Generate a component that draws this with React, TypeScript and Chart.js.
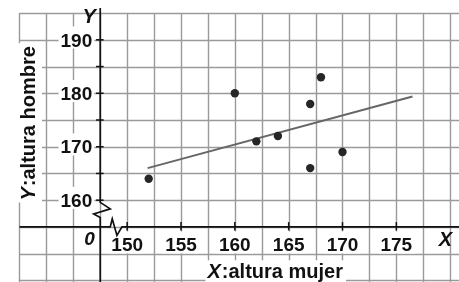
import React, { useEffect, useRef } from 'react';
import { Chart, registerables } from 'chart.js';

Chart.register(...registerables);

// ---- data ----
const alturaMujer = [152, 160, 162, 164, 167, 167, 168, 170];
const alturaHombre = [164, 180, 171, 172, 178, 166, 183, 169];

const rectaX = [151.9, 176.5];
const rectaY = [166, 179.4];

const xTickValues = [150, 155, 160, 165, 170, 175];
const xTickLabels = ['150', '155', '160', '165', '170', '175'];
const yTickValues = [160, 165, 170, 175, 180, 185, 190];
const yTickLabels = ['160', '', '170', '', '180', '', '190'];

const xTitleVar = 'X';
const xTitleText = ':altura mujer';
const yTitleVar = 'Y';
const yTitleText = ':altura hombre';
const originLabel = '0';
const xAxisName = 'X';
const yAxisName = 'Y';

// axis/break geometry in data units
const xMin = 138.58;
const xMax = 180.43;
const yMin = 145.48;
const yMax = 196.66;
const originX = 147.5;
const originY = 155;
const gridX0 = 140;
const gridY1 = 195;
const gridStepX = 2.5;
const gridStepY = 5;

const FONT = '"Liberation Sans", Arial, sans-serif';

export default function App() {
  const ref = useRef<HTMLCanvasElement>(null);

  useEffect(() => {
    document.body.style.margin = '0';
    const canvas = ref.current!;

    const paper = {
      id: 'paper',
      beforeDatasetsDraw(chart: any) {
        const ctx: CanvasRenderingContext2D = chart.ctx;
        const xs = chart.scales.x;
        const ys = chart.scales.y;
        const px = (v: number) => xs.getPixelForValue(v);
        const py = (v: number) => ys.getPixelForValue(v);
        const W = chart.width;
        const H = chart.height;
        const seg = (x1: number, y1: number, x2: number, y2: number) => {
          ctx.beginPath();
          ctx.moveTo(x1, y1);
          ctx.lineTo(x2, y2);
          ctx.stroke();
        };

        ctx.save();
        ctx.fillStyle = '#ffffff';
        ctx.fillRect(0, 0, W, H);

        // grid paper
        ctx.strokeStyle = '#9a9a9a';
        ctx.lineWidth = 1.4;
        const gl = px(gridX0);
        const gt = py(gridY1);
        for (let v = gridX0; px(v) <= W + 1; v += gridStepX) {
          const x = Math.round(px(v)) + 0.5;
          seg(x, gt, x, H);
        }
        for (let v = gridY1; py(v) <= H + 1; v -= gridStepY) {
          const y = Math.round(py(v)) + 0.5;
          seg(gl, y, W, y);
        }

        const ax = px(originX);
        const ay = py(originY);

        // white boxes + labels
        const boxText = (t: string, x: number, base: number, align: CanvasTextAlign, font: string) => {
          if (!t) return;
          ctx.font = font;
          const w = ctx.measureText(t).width;
          let l = x;
          if (align === 'center') l = x - w / 2;
          if (align === 'right') l = x - w;
          ctx.fillStyle = '#ffffff';
          ctx.fillRect(l - 2, base - 20, w + 4, 22);
          ctx.fillStyle = '#111111';
          ctx.textAlign = align;
          ctx.textBaseline = 'alphabetic';
          ctx.fillText(t, x, base);
        };

        const tickFont = `bold 19px ${FONT}`;
        xTickValues.forEach((v, i) => boxText(xTickLabels[i], px(v), ay + 24.5, 'center', tickFont));
        yTickValues.forEach((v, i) => boxText(yTickLabels[i], ax - 8, py(v) + 6.7, 'right', tickFont));

        // axes
        ctx.strokeStyle = '#111111';
        ctx.lineWidth = 1.7;
        ctx.lineJoin = 'miter';
        // y axis with break
        ctx.beginPath();
        ctx.moveTo(ax, 8);
        ctx.lineTo(ax, ay - 24.5);
        ctx.lineTo(ax + 10, ay - 18);
        ctx.lineTo(ax - 6.5, ay - 13);
        ctx.lineTo(ax, ay - 9.5);
        ctx.lineTo(ax, H);
        ctx.stroke();
        // x axis with break
        ctx.beginPath();
        ctx.moveTo(gl, ay);
        ctx.lineTo(ax + 10, ay);
        ctx.lineTo(ax + 12, ay - 8);
        ctx.lineTo(ax + 16.7, ay + 8.5);
        ctx.lineTo(ax + 21.7, ay);
        ctx.lineTo(W, ay);
        ctx.stroke();

        // tick marks
        ctx.lineWidth = 1.5;
        xTickValues.forEach((v) => {
          const x = px(v);
          seg(x, ay - 4.8, x, ay + 3.5);
        });
        yTickValues.forEach((v) => {
          const y = py(v);
          seg(ax - 4.2, y, ax + 3.4, y);
        });

        // axis names and origin
        ctx.fillStyle = '#111111';
        ctx.textBaseline = 'alphabetic';
        ctx.font = `italic bold 19px ${FONT}`;
        ctx.textAlign = 'right';
        ctx.fillText(originLabel, ax - 5.5, ay + 18.5);
        ctx.font = `italic bold 20px ${FONT}`;
        ctx.textAlign = 'center';
        ctx.fillText(xAxisName, 445.5, ay + 19.3);
        ctx.fillText(yAxisName, ax - 11, 23.3);

        // x title
        ctx.textAlign = 'left';
        const xtx = 207.5;
        const xtb = 278.3;
        ctx.font = `italic bold 20px ${FONT}`;
        const wv = ctx.measureText(xTitleVar).width;
        ctx.font = `bold 20px ${FONT}`;
        const wt = ctx.measureText(xTitleText).width;
        ctx.fillStyle = '#ffffff';
        ctx.fillRect(xtx - 2, xtb - 18, wv + wt + 6, 24);
        ctx.fillStyle = '#111111';
        ctx.font = `italic bold 20px ${FONT}`;
        ctx.fillText(xTitleVar, xtx, xtb);
        ctx.font = `bold 20px ${FONT}`;
        ctx.fillText(xTitleText, xtx + wv + 1, xtb);

        // y title (rotated)
        ctx.save();
        ctx.translate(35, 200.5);
        ctx.rotate(-Math.PI / 2);
        ctx.font = `italic bold 20px ${FONT}`;
        const yv = ctx.measureText(yTitleVar).width;
        ctx.font = `bold 20px ${FONT}`;
        const yt = ctx.measureText(yTitleText).width;
        ctx.fillStyle = '#ffffff';
        ctx.fillRect(-2, -17, yv + yt + 6, 24);
        ctx.fillStyle = '#111111';
        ctx.font = `italic bold 20px ${FONT}`;
        ctx.fillText(yTitleVar, 0, 0);
        ctx.font = `bold 20px ${FONT}`;
        ctx.fillText(yTitleText, yv + 1, 0);
        ctx.restore();

        ctx.restore();
      },
    };

    const chart = new Chart(canvas, {
      type: 'scatter',
      data: {
        datasets: [
          {
            label: 'recta',
            data: rectaX.map((x, i) => ({ x, y: rectaY[i] })),
            showLine: true,
            borderColor: '#666666',
            borderWidth: 2,
            pointRadius: 0,
            pointHoverRadius: 0,
            order: 2,
          },
          {
            label: 'datos',
            data: alturaMujer.map((x, i) => ({ x, y: alturaHombre[i] })),
            backgroundColor: '#262626',
            borderColor: '#262626',
            borderWidth: 0,
            pointRadius: 4.2,
            order: 1,
          },
        ],
      },
      options: {
        responsive: false,
        animation: false,
        devicePixelRatio: 1,
        layout: { padding: 0 },
        plugins: { legend: { display: false }, tooltip: { enabled: false } },
        events: [],
        scales: {
          x: { type: 'linear', min: xMin, max: xMax, display: false },
          y: { type: 'linear', min: yMin, max: yMax, display: false },
        },
      },
      plugins: [paper],
    });

    return () => chart.destroy();
  }, []);

  return (
    <div style={{ width: 459, height: 282 }}>
      <canvas ref={ref} width={459} height={282} style={{ display: 'block', width: 459, height: 282 }} />
    </div>
  );
}
